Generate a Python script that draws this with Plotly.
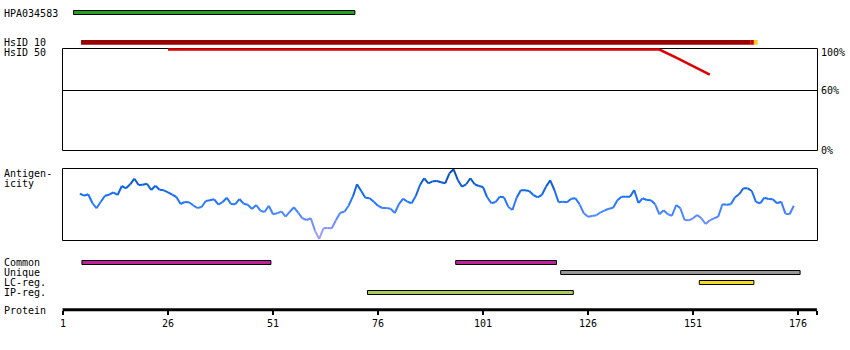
import plotly.graph_objects as go

# ---------------- data ----------------
residues = list(range(5, 176))
antigenicity = [
    46.3, 44.3, 45.7, 37.0, 31.7, 38.3, 44.3, 45.3, 47.7, 45.0,   # 5-14
    54.0, 51.7, 55.7, 61.3, 55.0, 55.3, 56.3, 50.0, 54.3, 50.3,   # 15-24
    49.7, 47.7, 45.3, 43.0, 36.0, 38.0, 37.7, 34.7, 32.0, 33.0,   # 25-34
    39.0, 39.7, 40.7, 35.3, 38.0, 42.3, 36.0, 35.7, 41.0, 36.3,   # 35-44
    35.3, 31.0, 35.0, 29.3, 28.0, 34.3, 25.7, 26.7, 28.7, 23.3,   # 45-54
    28.3, 32.7, 27.3, 21.7, 20.0, 21.7, 9.3, 1.0, 11.7, 12.0,     # 55-64
    11.7, 20.0, 27.3, 28.3, 34.3, 43.3, 55.7, 49.0, 42.3, 41.7,   # 65-74
    38.3, 34.3, 32.0, 32.0, 31.3, 27.0, 36.0, 41.3, 38.3, 36.7,   # 75-84
    44.0, 55.0, 61.7, 56.7, 58.7, 59.0, 57.7, 56.7, 66.7, 70.7,   # 85-94
    60.0, 53.3, 55.7, 61.7, 55.7, 54.0, 53.0, 42.7, 36.7, 38.0,   # 95-104
    43.3, 42.7, 33.3, 30.0, 42.3, 49.7, 49.7, 49.0, 45.0, 42.7,   # 105-114
    45.0, 53.3, 59.7, 50.0, 37.7, 38.3, 37.7, 41.3, 41.7, 35.7,   # 115-124
    26.7, 23.3, 24.0, 24.7, 27.7, 29.7, 31.3, 32.3, 39.7, 43.3,   # 125-134
    43.3, 43.3, 50.0, 37.0, 41.7, 40.0, 39.7, 35.7, 25.7, 29.7,   # 135-144
    25.7, 24.3, 35.0, 31.7, 20.0, 19.7, 21.7, 25.0, 21.7, 16.0,   # 145-154
    19.7, 21.7, 23.3, 35.7, 35.3, 35.7, 42.7, 45.7, 51.7, 51.7,   # 155-164
    49.0, 38.0, 36.7, 42.3, 41.0, 40.7, 36.7, 38.3, 26.3, 25.7,   # 165-174
    34.3,                                                         # 175
]

hpa_name = "HPA034583"
hpa_span = [3.5, 70.5]

hsid10_spans = [[5.3, 164.6], [164.6, 165.5], [165.5, 166.4]]
hsid50_x = [26, 143, 147, 151, 155]
hsid50_y = [100, 100, 92, 83.5, 75.5]
hsid_pct_labels = [100, 60, 0]

track_names = ["Common", "Unique", "LC-reg.", "IP-reg."]
common_spans = [[5.5, 50.5], [94.5, 118.5]]
unique_spans = [[119.5, 176.5]]
lc_spans = [[152.5, 165.5]]
ip_spans = [[73.5, 122.5]]

protein_ticks = [1, 26, 51, 76, 101, 126, 151, 176]
protein_end = 180.5

# ---------------- style / layout ----------------
W, H = 850, 350
FONT = dict(family="DejaVu Sans Mono", size=10, color="black")
X_RANGE = [-14, 188.38]
BOX_X = [0.88, 180.64]


def py(px):
    return 1 - px / H


hsid10_colors = ["#990000", "#dd0000", "#ffcc22"]
track_colors = ["#c020a0", "#999999", "#eedd22", "#a8cc58"]
track_spans = [common_spans, unique_spans, lc_spans, ip_spans]
track_rows = [262.5, 272.5, 282.5, 292.5]

stops = [(0, (180, 168, 255)), (15, (115, 142, 255)), (28, (70, 135, 255)),
         (40, (30, 115, 255)), (55, (12, 95, 222)), (72, (5, 70, 170))]


def color_for(v):
    for (a, ca), (b, cb) in zip(stops[:-1], stops[1:]):
        if v <= b:
            t = max(0.0, (v - a) / (b - a))
            c = [round(ca[i] + (cb[i] - ca[i]) * t) for i in range(3)]
            return "rgb(%d,%d,%d)" % tuple(c)
    return "rgb(%d,%d,%d)" % stops[-1][1]


fig = go.Figure()

# antigenicity gradient line
for i in range(len(residues) - 1):
    v = (antigenicity[i] + antigenicity[i + 1]) / 2
    fig.add_trace(go.Scatter(
        x=residues[i:i + 2], y=antigenicity[i:i + 2], mode="lines",
        line=dict(color=color_for(v), width=2), xaxis="x", yaxis="y3",
        hoverinfo="skip", showlegend=False))

# HsID 50 line
fig.add_trace(go.Scatter(x=hsid50_x, y=hsid50_y, mode="lines",
                         line=dict(color="#dd0000", width=2.6),
                         xaxis="x", yaxis="y2", showlegend=False, hoverinfo="skip"))

shapes = []
# HPA bar
shapes.append(dict(type="rect", xref="x", yref="y", x0=hpa_span[0], x1=hpa_span[1],
                   y0=10.5, y1=14.5, fillcolor="#22a022", line=dict(color="black", width=1)))
# HsID 10 bars
for (a, b), c in zip(hsid10_spans, hsid10_colors):
    shapes.append(dict(type="rect", xref="x", yref="y", x0=a, x1=b, y0=40, y1=44.8,
                       fillcolor=c, line=dict(width=0)))
# HsID box (drawn below the HsID 50 line)
shapes.append(dict(type="rect", xref="x", yref="y", x0=BOX_X[0], x1=BOX_X[1],
                   y0=48.5, y1=150.5, line=dict(color="black", width=1), layer="below"))
shapes.append(dict(type="line", xref="x", yref="y2", x0=BOX_X[0], x1=BOX_X[1],
                   y0=60, y1=60, line=dict(color="black", width=1), layer="below"))
# antigenicity box
shapes.append(dict(type="rect", xref="x", yref="y", x0=BOX_X[0], x1=BOX_X[1],
                   y0=168.5, y1=240.5, line=dict(color="black", width=1), layer="below"))
# tracks
for spans, c, row in zip(track_spans, track_colors, track_rows):
    for a, b in spans:
        shapes.append(dict(type="rect", xref="x", yref="y", x0=a, x1=b,
                           y0=row - 2, y1=row + 2, fillcolor=c,
                           line=dict(color="black", width=1)))
# protein line
shapes.append(dict(type="line", xref="x", yref="y", x0=protein_ticks[0] - 0.1, x1=protein_end,
                   y0=309.8, y1=309.8, line=dict(color="black", width=3)))
fig.update_layout(shapes=shapes)

ann = []


def label(text, xpx, ypx, xanchor="left"):
    ann.append(dict(text=text, xref="paper", yref="y", x=xpx / W, y=ypx,
                    xanchor=xanchor, yanchor="middle", showarrow=False, font=FONT))


label(hpa_name, 2, 13)
label("HsID 10", 2, 42.5)
label("HsID 50", 2, 52.5)
label("Antigen-", 2, 173.5)
label("icity", 2, 183.5)
for name, row in zip(track_names, track_rows):
    label(name, 2, row)
label("Protein", 2, 310)
pct_y = {100: 52.7, 60: 90.7, 0: 150}
for p in hsid_pct_labels:
    label("%d%%" % p, 819, pct_y[p])
fig.update_layout(annotations=ann)

# HsID 50 scale: 100% -> 49.5 px, 60% -> 90.5 px
PX_PER_PCT = (90.5 - 49.5) / 40
Y2_ZERO_PX = 90.5 + 60 * PX_PER_PCT

fig.update_layout(
    width=W, height=H, margin=dict(l=0, r=0, t=0, b=0),
    paper_bgcolor="white", plot_bgcolor="rgba(0,0,0,0)", showlegend=False,
    xaxis=dict(range=X_RANGE, domain=[0, 1], anchor="free", position=py(309.8),
               tickvals=protein_ticks + [protein_end],
               ticktext=[str(t) for t in protein_ticks] + [""],
               ticks="outside", ticklen=4, tickwidth=2, tickcolor="black",
               showgrid=False, zeroline=False, showline=False,
               tickfont=FONT, fixedrange=True),
    yaxis=dict(range=[H, 0], domain=[0, 1], visible=False, fixedrange=True),
    yaxis2=dict(range=[0, (Y2_ZERO_PX - 45) / PX_PER_PCT], domain=[py(Y2_ZERO_PX), py(45)],
                visible=False, anchor="x", fixedrange=True),
    yaxis3=dict(range=[0, 71.7], domain=[py(240), py(168.3)],
                visible=False, anchor="x", fixedrange=True),
)

fig.write_html("out.html")
